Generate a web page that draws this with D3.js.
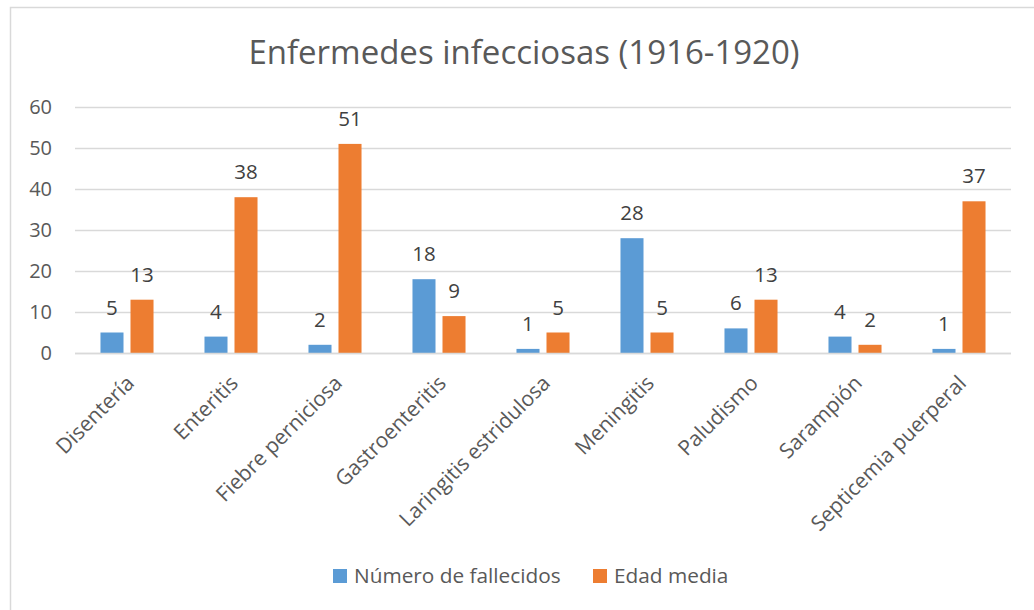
<!DOCTYPE html>
<html>
<head>
<meta charset="utf-8">
<script src="https://cdn.jsdelivr.net/npm/d3@7"></script>
<style>
  body { margin: 0; background: #fff; }
  svg { display: block; font-family: "Open Sans", sans-serif; }
</style>
</head>
<body>
<div id="chart"></div>
<script>
// data
const categories = ["Disentería", "Enteritis", "Fiebre perniciosa", "Gastroenteritis",
  "Laringitis estridulosa", "Meningitis", "Paludismo", "Sarampión", "Septicemia puerperal"];
const seriesNames = ["Número de fallecidos", "Edad media"];
const fallecidos = [5, 4, 2, 18, 1, 28, 6, 4, 1];
const edadMedia = [13, 38, 51, 9, 5, 5, 13, 2, 37];
const yTicks = [0, 10, 20, 30, 40, 50, 60];
const colors = ["#5B9BD5", "#ED7D31"];

const width = 1034, height = 610;
const svg = d3.select("#chart").append("svg").attr("width", width).attr("height", height);

// chart frame
svg.append("rect").attr("x", 10.5).attr("y", 7.5).attr("width", 1040).attr("height", 620)
  .attr("fill", "none").attr("stroke", "#d9d9d9").attr("stroke-width", 1.5);

svg.append("text").attr("x", 524).attr("y", 64).attr("text-anchor", "middle")
  .attr("font-size", "33px").attr("fill", "#595959")
  .text("Enfermedes infecciosas (1916-1920)");

let x0 = d3.scaleBand().domain(categories).range([75, 1011]).paddingInner(0.49).paddingOuter(0.245);
let x1 = d3.scaleBand().domain(seriesNames).range([0, x0.bandwidth()]).paddingInner(0.233);
let y = d3.scaleLinear().domain([0, 60]).range([353, 107]);

// gridlines
svg.append("g").selectAll("line").data(yTicks).enter().append("line")
  .attr("x1", 75).attr("x2", 1011)
  .attr("y1", d => Math.round(y(d)) + 0.5).attr("y2", d => Math.round(y(d)) + 0.5)
  .attr("stroke", "#d9d9d9").attr("stroke-width", 1.5);

// y axis labels
let yAxis = svg.append("g").attr("transform", "translate(52,0)")
  .call(d3.axisLeft(y).tickValues(yTicks).tickSize(0).tickPadding(0));
yAxis.select(".domain").remove();
yAxis.selectAll("text").attr("font-size", "20px").attr("fill", "#595959")
  .attr("font-family", "Open Sans, sans-serif");

let rows = categories.map((c, i) => ({ cat: c, vals: [fallecidos[i], edadMedia[i]] }));

let groups = svg.append("g").selectAll("g").data(rows).enter().append("g")
  .attr("transform", d => "translate(" + x0(d.cat) + ",0)");

groups.selectAll("rect").data(d => d.vals.map((v, j) => ({ s: seriesNames[j], v: v, j: j })))
  .enter().append("rect")
  .attr("x", d => x1(d.s)).attr("width", x1.bandwidth())
  .attr("y", d => y(d.v)).attr("height", d => y(0) - y(d.v))
  .attr("fill", d => colors[d.j]);

groups.selectAll("text").data(d => d.vals.map((v, j) => ({ s: seriesNames[j], v: v })))
  .enter().append("text")
  .attr("x", d => x1(d.s) + x1.bandwidth() / 2).attr("y", d => y(d.v) - 18)
  .attr("text-anchor", "middle").attr("font-size", "20.5px").attr("fill", "#404040")
  .text(d => d.v);

// x axis line
svg.append("line").attr("x1", 75).attr("x2", 1011).attr("y1", 353.5).attr("y2", 353.5)
  .attr("stroke", "#d9d9d9").attr("stroke-width", 1.5);

// category labels rotated
svg.append("g").selectAll("text").data(categories).enter().append("text")
  .attr("transform", d => "translate(" + (x0(d) + x0.bandwidth() / 2 - 2) + ",374) rotate(-45)")
  .attr("text-anchor", "end").attr("dy", "0.7em")
  .attr("font-size", "21px").attr("fill", "#595959")
  .text(d => d);

// legend
let legend = svg.append("g");
let lx = [333, 593];
seriesNames.forEach((s, i) => {
  legend.append("rect").attr("x", lx[i]).attr("y", 569).attr("width", 14).attr("height", 14).attr("fill", colors[i]);
  legend.append("text").attr("x", lx[i] + 21).attr("y", 583).attr("font-size", "20.8px")
    .attr("fill", "#595959").text(s);
});
</script>
</body>
</html>
